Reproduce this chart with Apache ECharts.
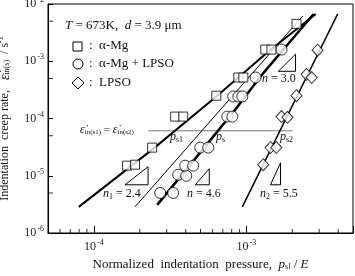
<!DOCTYPE html>
<html>
<head>
	<meta charset="utf-8">
	<title>Indentation creep rate</title>
	<script src="https://cdn.jsdelivr.net/npm/echarts@6/dist/echarts.min.js"></script>
	<style type="text/css">
		* { margin: 0; padding: 0; }
		body { width: 355px; height: 276px; overflow: hidden; background: #fff; }
		#main { width: 355px; height: 276px; }
	</style>
</head>
<body>
<div id="main"></div>
<script type="text/javascript">
    // data (x = p/E, y = creep rate)
    var alphaMg = [[1.65e-4, 1.50e-5], [1.86e-4, 1.56e-5], [2.41e-4, 3.1e-5], [3.41e-4, 1.08e-4], [3.85e-4, 1.08e-4],
        [6.35e-4, 2.5e-4], [8.85e-4, 5.2e-4], [9.55e-4, 5.2e-4], [1.33e-3, 1.6e-3], [1.46e-3, 1.6e-3], [2.13e-3, 4.5e-3]];
    var alphaLpso = [[2.72e-4, 5.0e-6], [3.31e-4, 5.0e-6], [3.57e-4, 1.04e-5], [4.03e-4, 1.0e-5], [3.97e-4, 1.5e-5],
        [4.48e-4, 1.5e-5], [4.98e-4, 3.1e-5], [5.62e-4, 3.1e-5], [7.5e-4, 1.08e-4], [8.09e-4, 1.08e-4],
        [8.2e-4, 2.43e-4], [8.86e-4, 2.43e-4], [9.4e-4, 2.43e-4], [1.15e-3, 5.2e-4], [1.70e-3, 1.6e-3]];
    var lpso = [[1.29e-3, 1.56e-5], [1.44e-3, 3.1e-5], [1.57e-3, 3.1e-5], [1.70e-3, 1.08e-4], [1.86e-3, 1.05e-4],
        [2.13e-3, 2.5e-4], [2.48e-3, 5.9e-4], [2.68e-3, 5.2e-4], [2.93e-3, 1.56e-3]];

    // fitted lines
    var alphaMgFit = [[7.96e-5, 2.86e-6], [2.41e-4, 2.86e-5], [6.35e-4, 2.43e-4], [1.40e-3, 1.50e-3], [2.85e-3, 6.7e-3]];
    var mixFit = [[2.6e-4, 3.1e-6], [5.29e-4, 3.1e-5], [8.46e-4, 1.44e-4], [1.27e-3, 5.91e-4], [2.76e-3, 6.68e-3]];
    var mixThin = [[1.86e-4, 2.86e-6], [2.34e-3, 6.16e-3]];
    var lpsoFit = [[9.4e-4, 2.86e-6], [3.97e-3, 6.7e-3]];
    var equalRate = [[2.27e-4, 6.1e-5], [2.01e-3, 6.1e-5]];

    // slope triangles
    var tri30 = [[1.62e-3, 6.68e-4], [2.10e-3, 1.33e-3], [2.10e-3, 6.68e-4], [1.62e-3, 6.68e-4]];
    var tri24 = [[1.60e-4, 6.95e-6], [2.265e-4, 1.44e-5], [2.265e-4, 6.95e-6], [1.60e-4, 6.95e-6]];
    var tri46 = [[4.62e-4, 6.95e-6], [5.71e-4, 1.327e-5], [5.71e-4, 6.95e-6], [4.62e-4, 6.95e-6]];
    var tri55 = [[1.439e-3, 6.95e-6], [1.674e-3, 1.69e-5], [1.674e-3, 6.95e-6], [1.439e-3, 6.95e-6]];

    // axes
    var xMin = 5e-5, xMax = 5e-3, yMin = 1e-6, yMax = 1e-2;
    var xMinorTicks = [6e-5, 7e-5, 8e-5, 9e-5, 2e-4, 3e-4, 4e-4, 5e-4, 6e-4, 7e-4, 8e-4, 9e-4, 2e-3, 3e-3, 4e-3];
    var yMinorTicks = [5e-6, 5e-5, 5e-4, 5e-3];

    var serif = 'Liberation Serif';
    var myChart = echarts.init(document.getElementById('main'));

    function powLabel(v) {
        var e = Math.log10(v);
        if (Math.abs(e - Math.round(e)) > 1e-6) return '';
        return '{a|10}{b|' + Math.round(e) + '}';
    }
    var tickRich = {
        a: { fontFamily: serif, fontSize: 12, color: '#222' },
        b: { fontFamily: serif, fontSize: 8, color: '#222', verticalAlign: 'bottom', padding: [0, 0, 8, 1] }
    };

    function subRich() {
        return {
            i: { fontFamily: serif, fontSize: 12, fontStyle: 'italic', fill: '#111' },
            s: { fontFamily: serif, fontSize: 8, fill: '#111', verticalAlign: 'top', padding: [6, 0, 0, 0] }
        };
    }
    function note(x, y, text) {
        return {
            type: 'text', left: x, top: y, silent: true,
            style: { text: text, fontFamily: serif, fontSize: 12, fill: '#111', rich: subRich() }
        };
    }

    function lineSeries(data, width, color) {
        return {
            type: 'line', data: data, symbol: 'none', silent: true, z: 2,
            lineStyle: { color: color || '#000', width: width }
        };
    }
    function pointSeries(data, symbol, size) {
        return {
            type: 'scatter', data: data, symbol: symbol, symbolSize: size, z: 5, silent: true,
            itemStyle: { color: '#fff', borderColor: '#000', borderWidth: 1 }
        };
    }

    var option = {
        animation: false,
        grid: {
            left: 48, top: 4, right: 2, bottom: 43,
            containLabel: false, outerBoundsMode: 'none',
            show: true, borderColor: '#000', borderWidth: 1
        },
        xAxis: {
            type: 'log', logBase: 10, min: xMin, max: xMax,
            name: '{t|Normalized  indentation  pressure,}  {i|p}{s|sl}{t| / }{i|E}',
            nameLocation: 'middle', nameGap: 24,
            nameTextStyle: {
                rich: {
                    t: { fontFamily: serif, fontSize: 13, color: '#111' },
                    i: { fontFamily: serif, fontSize: 13, fontStyle: 'italic', color: '#111' },
                    s: { fontFamily: serif, fontSize: 8, color: '#111', verticalAlign: 'top', padding: [6, 0, 0, 0] }
                }
            },
            axisLine: { lineStyle: { color: '#000', width: 1 } },
            axisTick: { inside: true, length: 7, lineStyle: { color: '#000' } },
            axisLabel: { margin: 6, formatter: powLabel, rich: tickRich },
            splitLine: { show: false }
        },
        yAxis: {
            type: 'log', logBase: 10, min: yMin, max: yMax,
            name: '{t|Indentation  creep rate,}   {i|ε̇}{s|in(s)}{t|  / s}{p|-1}',
            nameLocation: 'middle', nameGap: 35, nameRotate: 90,
            nameTextStyle: {
                rich: {
                    t: { fontFamily: serif, fontSize: 12, color: '#111' },
                    i: { fontFamily: serif, fontSize: 14, fontStyle: 'italic', color: '#111' },
                    s: { fontFamily: serif, fontSize: 8, color: '#111', verticalAlign: 'top', padding: [6, 0, 0, 0] },
                    p: { fontFamily: serif, fontSize: 8, color: '#111', verticalAlign: 'bottom', padding: [0, 0, 8, 0] }
                }
            },
            axisLine: { lineStyle: { color: '#000', width: 1 } },
            axisTick: { inside: true, length: 5, lineStyle: { color: '#000' } },
            axisLabel: { margin: 4, formatter: powLabel, rich: tickRich },
            splitLine: { show: false }
        },
        graphic: [
            {
                type: 'text', left: 65, top: 19, silent: true,
                style: {
                    text: '{i|T} = 673K,  {i|d} = 3.9 μm',
                    rich: {
                        i: { fontFamily: serif, fontSize: 13, fontStyle: 'italic', fill: '#111' }
                    },
                    fontFamily: serif, fontSize: 13, fill: '#111'
                }
            },
            { type: 'rect', shape: { x: 73, y: 42, width: 9, height: 9 }, style: { fill: '#fff', stroke: '#000', lineWidth: 1 } },
            { type: 'circle', shape: { cx: 78, cy: 64, r: 5 }, style: { fill: '#fff', stroke: '#000', lineWidth: 1 } },
            { type: 'polygon', shape: { points: [[78, 77], [84, 83], [78, 89], [72, 83]] }, style: { fill: '#fff', stroke: '#000', lineWidth: 1 } },
            { type: 'text', left: 89, top: 39, style: { text: ':  α-Mg', fontFamily: serif, fontSize: 13, fill: '#111' } },
            { type: 'text', left: 89, top: 57, style: { text: ':  α-Mg + LPSO', fontFamily: serif, fontSize: 13, fill: '#111' } },
            { type: 'text', left: 89, top: 76, style: { text: ':  LPSO', fontFamily: serif, fontSize: 13, fill: '#111' } },
            {
                type: 'text', left: 80, top: 124, silent: true,
                style: {
                    text: '{i|ε̇}{s|in(s1)} = {i|ε̇}{s|in(s2)}',
                    fontFamily: serif, fontSize: 11, fill: '#111',
                    rich: {
                        i: { fontFamily: serif, fontSize: 12, fontStyle: 'italic' },
                        s: { fontFamily: serif, fontSize: 7, verticalAlign: 'top', padding: [5, 0, 0, 0] }
                    }
                }
            },
            note(170, 131, '{i|p}{s|s1}'),
            note(216, 131, '{i|p}{s|s}'),
            note(280, 131, '{i|p}{s|s2}'),
            note(262, 73, '{i|n} = 3.0'),
            note(103, 188, '{i|n}{s|1} = 2.4'),
            note(187, 188, '{i|n} = 4.6'),
            note(260, 188, '{i|n}{s|2} = 5.5')
        ],
        series: [
            lineSeries(equalRate, 1, '#777'),
            lineSeries(alphaMgFit, 2),
            lineSeries(mixThin, 1),
            lineSeries(mixFit, 2.5),
            lineSeries(lpsoFit, 1.5),
            lineSeries(tri30, 1),
            lineSeries(tri24, 1),
            lineSeries(tri46, 1),
            lineSeries(tri55, 1),
            pointSeries(alphaMg, 'rect', [9, 9]),
            pointSeries(alphaLpso, 'circle', 11),
            pointSeries(lpso, 'diamond', [11, 12]),
            {
                type: 'scatter', silent: true, z: 6,
                data: xMinorTicks.map(function (v) { return [v, yMin]; }),
                symbol: 'rect', symbolSize: [1, 4], symbolOffset: [0, -2],
                itemStyle: { color: '#000' }
            },
            {
                type: 'scatter', silent: true, z: 6,
                data: yMinorTicks.map(function (v) { return [xMin, v]; }),
                symbol: 'rect', symbolSize: [5, 1], symbolOffset: [2.5, 0],
                itemStyle: { color: '#000' }
            }
        ]
    };

    myChart.setOption(option);
</script>
</body>
</html>
